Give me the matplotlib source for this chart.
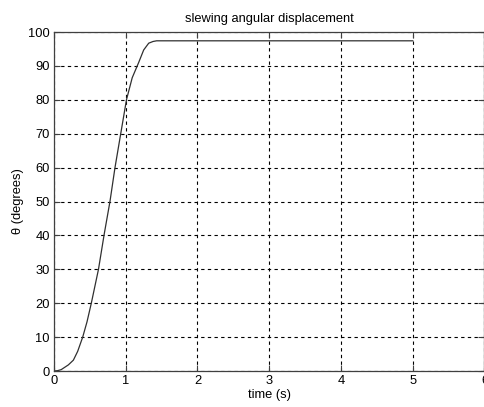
import numpy as np
import matplotlib as mpl
mpl.use('Agg')
import matplotlib.pyplot as plt

# slewing response
t_s = [0, 0.05, 0.1, 0.15, 0.2, 0.27, 0.33, 0.4, 0.46, 0.52, 0.62, 0.7,
       0.78, 0.85, 0.93, 1.01, 1.09, 1.18, 1.25, 1.32, 1.38, 1.43, 5.0]
theta_deg = [0, 0.1, 0.4, 1.1, 1.8, 3.2, 5.8, 10, 14.5, 20, 30, 40.4,
             50, 60, 70, 80, 86.5, 91, 94.7, 96.7, 97.2, 97.4, 97.4]

xticks = [0, 1, 2, 3, 4, 5, 6]
yticks = [0, 10, 20, 30, 40, 50, 60, 70, 80, 90, 100]

plt.rcParams['font.family'] = ['Liberation Sans', 'DejaVu Sans']
fs = 9.3

fig = plt.figure(figsize=(4.85, 4.07), dpi=100)
ax = fig.add_axes([54 / 485, 36 / 407, 430.5 / 485, 339 / 407])

ax.plot(t_s, theta_deg, color='#303030', linewidth=0.9)

ax.set_xlim(0, 6)
ax.set_ylim(0, 100)
ax.set_xticks(xticks)
ax.set_yticks(yticks)
ax.grid(True, color='black', linestyle=(0, (3, 3)), linewidth=0.8)
ax.tick_params(direction='in', length=4, width=0.8, labelsize=fs,
               top=True, right=True, color='#404040', pad=3)
for s in ax.spines.values():
    s.set_color('#404040')
    s.set_linewidth(0.9)

ax.set_title('slewing angular displacement', fontsize=fs, pad=7)
ax.set_xlabel('time (s)', fontsize=fs, labelpad=1)
ax.set_ylabel('\u03b8 (degrees)', fontsize=fs, labelpad=3)

fig.savefig('out.png', dpi=100)
plt.close(fig)
